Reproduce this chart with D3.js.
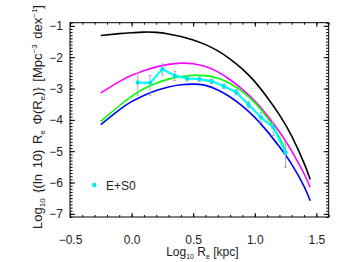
<!DOCTYPE html>
<html>
<head>
<meta charset="utf-8">
<script src="https://cdn.jsdelivr.net/npm/d3@7"></script>
<style>
  body { margin: 0; background: #fff; }
  svg text { font-family: "Liberation Sans", Arial, sans-serif; fill: #222; }
</style>
</head>
<body>
<svg id="chart"></svg>
<script>
// tick values
var xTicks = [-0.5, 0.0, 0.5, 1.0, 1.5];
var yTicks = [-7, -6, -5, -4, -3, -2, -1];

// model curves
var gridX = [-0.25, -0.1, 0, 0.1, 0.2, 0.3, 0.4, 0.5, 0.6, 0.7, 0.8, 0.9, 1.0, 1.1, 1.2, 1.3, 1.4, 1.45];
var blackY = [-1.31, -1.25, -1.22, -1.20, -1.21, -1.26, -1.34, -1.45, -1.60, -1.80, -2.06, -2.38, -2.78, -3.28, -3.84, -4.52, -5.38, -5.90];
var magentaY = [-3.14, -2.78, -2.58, -2.43, -2.31, -2.23, -2.19, -2.21, -2.30, -2.47, -2.72, -3.03, -3.40, -3.85, -4.38, -5.00, -5.72, -6.15];
var blueY = [-4.15, -3.68, -3.42, -3.22, -3.06, -2.95, -2.88, -2.86, -2.90, -3.05, -3.27, -3.56, -3.92, -4.36, -4.86, -5.42, -6.12, -6.58];
var greenX = [-0.25, -0.1, 0, 0.1, 0.2, 0.3, 0.4, 0.5, 0.6, 0.7, 0.8, 0.9, 1.0, 1.1, 1.2, 1.25];
var greenY = [-4.05, -3.55, -3.25, -3.01, -2.83, -2.70, -2.62, -2.58, -2.59, -2.67, -2.84, -3.10, -3.45, -3.92, -4.55, -5.00];

// E+S0 measurements
var obsX = [0.05, 0.15, 0.25, 0.35, 0.45, 0.55, 0.65, 0.75, 0.85, 0.95, 1.05, 1.15, 1.25];
var obsY = [-2.81, -2.82, -2.38, -2.59, -2.68, -2.70, -2.77, -2.93, -3.12, -3.52, -3.92, -4.24, -5.04];
var obsHi = [-2.51, -2.59, -2.22, -2.45, -2.60, -2.63, -2.70, -2.86, -3.04, -3.42, -3.76, -4.08, -4.72];
var obsLo = [-3.21, -3.21, -2.57, -2.75, -2.76, -2.77, -2.84, -3.00, -3.20, -3.62, -4.08, -4.50, -5.51];

var svgW = 349, svgH = 262;
var plotL = 70, plotR = 328.7, plotT = 22.7, plotB = 217;

var svg = d3.select("#chart")
    .attr("width", svgW)
    .attr("height", svgH);

var x = d3.scaleLinear().domain([-0.5, 1.6]).range([plotL, plotR]);
var y = d3.scaleLinear().domain([-7.1, -0.9]).range([plotB, plotT]);

var xMinor = d3.range(-0.5, 1.61, 0.1).map(function(d){ return Math.round(d*10)/10; });
var yMinor = d3.range(-7.1, -0.89, 0.1).map(function(d){ return Math.round(d*10)/10; });

function drawAxis(axis, tx, ty) {
    var g = svg.append("g")
        .attr("transform", "translate(" + tx + "," + ty + ")")
        .call(axis);
    g.select(".domain").remove();
    g.selectAll("line").attr("stroke", "#000");
    g.selectAll("text").attr("font-size", 12).attr("fill", "#222")
        .attr("font-family", "Liberation Sans, Arial, sans-serif");
    return g;
}

// bottom / top
drawAxis(d3.axisBottom(x).tickValues(xMinor).tickSize(-2).tickFormat(""), 0, plotB);
drawAxis(d3.axisBottom(x).tickValues(xTicks).tickSize(-4).tickPadding(18).tickFormat(d3.format(".1f")), 0, plotB);
drawAxis(d3.axisTop(x).tickValues(xMinor).tickSize(-2).tickFormat(""), 0, plotT);
drawAxis(d3.axisTop(x).tickValues(xTicks).tickSize(-4).tickFormat(""), 0, plotT);
// left / right
drawAxis(d3.axisLeft(y).tickValues(yMinor).tickSize(-2.6).tickFormat(""), plotL, 0);
drawAxis(d3.axisLeft(y).tickValues(yTicks).tickSize(-5).tickPadding(7).tickFormat(d3.format("d")), plotL, 0);
drawAxis(d3.axisRight(y).tickValues(yMinor).tickSize(-2.6).tickFormat(""), plotR, 0);
drawAxis(d3.axisRight(y).tickValues(yTicks).tickSize(-5).tickFormat(""), plotR, 0);

svg.append("rect")
    .attr("x", plotL).attr("y", plotT)
    .attr("width", plotR - plotL).attr("height", plotB - plotT)
    .attr("fill", "none").attr("stroke", "#000").attr("stroke-width", 1);

var line = d3.line().curve(d3.curveNatural);

function model(xs, ys, color) {
    svg.append("path")
        .attr("d", line(xs.map(function(d, i){ return [x(d), y(ys[i])]; })))
        .attr("fill", "none")
        .attr("stroke", color)
        .attr("stroke-width", 1.6);
}

model(gridX, blackY, "#000000");
model(gridX, magentaY, "#ff00ff");
model(gridX, blueY, "#0000ff");
model(greenX, greenY, "#00ff00");

// error bars
var eb = svg.append("g").attr("stroke", "#aaaaaa").attr("stroke-width", 1);
eb.selectAll("line.v").data(obsX).enter().append("line")
    .attr("x1", function(d){ return x(d); })
    .attr("x2", function(d){ return x(d); })
    .attr("y1", function(d, i){ return y(obsHi[i]); })
    .attr("y2", function(d, i){ return y(obsLo[i]); });
eb.selectAll("line.t").data(obsX).enter().append("line")
    .attr("x1", function(d){ return x(d) - 1.5; })
    .attr("x2", function(d){ return x(d) + 1.5; })
    .attr("y1", function(d, i){ return y(obsHi[i]); })
    .attr("y2", function(d, i){ return y(obsHi[i]); });
eb.selectAll("line.b").data(obsX).enter().append("line")
    .attr("x1", function(d){ return x(d) - 1.5; })
    .attr("x2", function(d){ return x(d) + 1.5; })
    .attr("y1", function(d, i){ return y(obsLo[i]); })
    .attr("y2", function(d, i){ return y(obsLo[i]); });

svg.append("path")
    .attr("d", d3.line()(obsX.map(function(d, i){ return [x(d), y(obsY[i])]; })))
    .attr("fill", "none")
    .attr("stroke", "#00ffff")
    .attr("stroke-width", 2.2);

svg.selectAll("circle.obs").data(obsX).enter().append("circle")
    .attr("cx", function(d){ return x(d); })
    .attr("cy", function(d, i){ return y(obsY[i]); })
    .attr("r", 2.2)
    .attr("fill", "#00e5ee");

// legend
svg.append("circle").attr("cx", 94.3).attr("cy", 185).attr("r", 2.2).attr("fill", "#00e5ee");
svg.append("text").attr("x", 106).attr("y", 189.5).attr("font-size", 12).attr("fill", "#333").text("E+S0");

// axis titles
var xt = svg.append("text")
    .attr("x", (plotL + plotR) / 2 + 3)
    .attr("y", 256)
    .attr("text-anchor", "middle")
    .attr("font-size", 12);
xt.append("tspan").text("Log");
xt.append("tspan").attr("font-size", 7).attr("dy", 3).text("10");
xt.append("tspan").attr("dy", -3).text(" R");
xt.append("tspan").attr("font-size", 7).attr("dy", 3).text("e");
xt.append("tspan").attr("dy", -3).text(" [kpc]");

var yt = svg.append("text")
    .attr("transform", "translate(42," + 117 + ") rotate(-90)")
    .attr("text-anchor", "middle")
    .attr("font-size", 13)
    .attr("word-spacing", 2);
yt.append("tspan").text("Log");
yt.append("tspan").attr("font-size", 8).attr("dy", 3).text("10");
yt.append("tspan").attr("dy", -3).text(" {(ln 10) R");
yt.append("tspan").attr("font-size", 8).attr("dy", 3).text("e");
yt.append("tspan").attr("dy", -3).text(" \u03A6(R");
yt.append("tspan").attr("font-size", 8).attr("dy", 3).text("e");
yt.append("tspan").attr("dy", -3).text(")} [Mpc");
yt.append("tspan").attr("font-size", 8).attr("dy", -5).text("\u22123");
yt.append("tspan").attr("dy", 5).text(" dex");
yt.append("tspan").attr("font-size", 8).attr("dy", -5).text("\u22121");
yt.append("tspan").attr("dy", 5).text("]");
</script>
</body>
</html>
